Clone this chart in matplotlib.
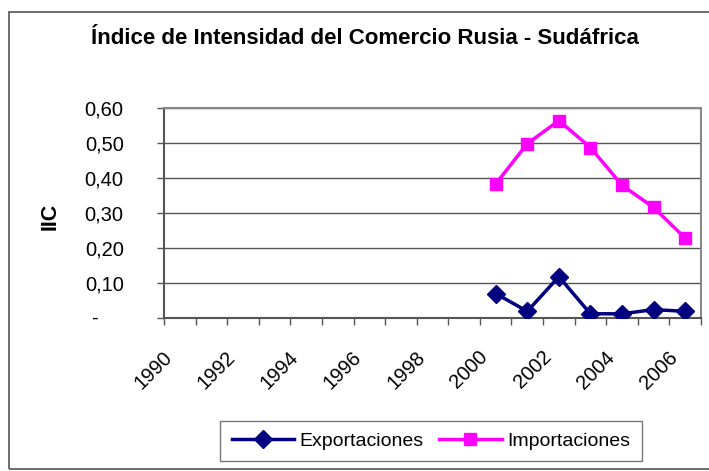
import matplotlib
matplotlib.use("Agg")
import matplotlib.pyplot as plt
from matplotlib.patches import Rectangle

years = list(range(1990, 2007))
exportaciones = [None] * 10 + [0.070, 0.019, 0.118, 0.012, 0.012, 0.024, 0.019]
importaciones = [None] * 10 + [0.383, 0.498, 0.564, 0.487, 0.379, 0.316, 0.228]
y_ticks = [0.0, 0.1, 0.2, 0.3, 0.4, 0.5, 0.6]
y_tick_labels = ["-", "0,10", "0,20", "0,30", "0,40", "0,50", "0,60"]

title = "Índice de Intensidad del Comercio Rusia - Sudáfrica"

plt.rcParams["font.family"] = ["Liberation Sans", "DejaVu Sans"]

W, H = 709, 471
fig = plt.figure(figsize=(W / 100, H / 100), dpi=100)
fig.patch.set_facecolor("white")

# outer chart border
fig.patches.append(Rectangle((9 / W, 1 - 469 / H), 720 / W, 457 / H,
                             transform=fig.transFigure, fill=False,
                             edgecolor="#555555", linewidth=1.2))

ax = fig.add_axes([164 / W, 1 - 318 / H, 537 / W, 210 / H])
ax.set_facecolor("white")

idx = list(range(len(years)))
ex_x = [i for i, v in zip(idx, exportaciones) if v is not None]
ex_y = [v for v in exportaciones if v is not None]
im_x = [i for i, v in zip(idx, importaciones) if v is not None]
im_y = [v for v in importaciones if v is not None]

ax.plot(ex_x, ex_y, color="#000080", linewidth=2.5, marker="D",
        markersize=9, label="Exportaciones", zorder=3)
ax.plot(im_x, im_y, color="#FF00FF", linewidth=2.5, marker="s",
        markersize=9, label="Importaciones", zorder=3)

ax.set_xlim(-0.5, len(years) - 0.5)
ax.set_ylim(0, 0.6)

# numeric labels right-aligned; the zero dash sits a little further left
ax.set_yticks(y_ticks)
ax.set_yticklabels([""] + y_tick_labels[1:], fontsize=14.5)
ax.tick_params(axis="y", length=5, width=1, color="#555555", pad=24)
ax.text(-66 / 537, y_ticks[0], y_tick_labels[0],
        transform=ax.get_yaxis_transform(), ha="right", va="center",
        fontsize=14.5)
ax.yaxis.grid(True, color="#555555", linewidth=1)
ax.set_axisbelow(True)

# category boundaries carry the tick marks; labels every second year
ax.set_xticks([i - 0.5 for i in range(len(years) + 1)])
ax.set_xticklabels([])
ax.tick_params(axis="x", length=5, width=1, color="#555555")
for i, yr in enumerate(years):
    if i % 2 == 0:
        ax.text(i - 0.55, -0.14, str(yr), transform=ax.get_xaxis_transform(),
                rotation=45, ha="right", va="top", rotation_mode="anchor",
                fontsize=14.5)

for side in ["top", "right"]:
    ax.spines[side].set_color("#888888")
    ax.spines[side].set_linewidth(1.5)
for side in ["left", "bottom"]:
    ax.spines[side].set_color("#555555")
    ax.spines[side].set_linewidth(1.5)

fig.text(365 / W, 1 - 38 / H, title, ha="center", va="center",
         fontsize=16, fontweight="bold")
fig.text(50 / W, 1 - 216 / H, "IIC", ha="center", va="center",
         rotation=90, fontsize=15.5, fontweight="bold")

leg = fig.legend(loc="center", bbox_to_anchor=(431 / W, 1 - 441 / H),
                 ncol=2, fontsize=14, frameon=True, fancybox=False,
                 edgecolor="#555555", handlelength=3.2, columnspacing=0.8,
                 handletextpad=0.3, borderpad=0.6)
leg.get_frame().set_linewidth(1)

fig.savefig("out.png", dpi=100, facecolor="white")
